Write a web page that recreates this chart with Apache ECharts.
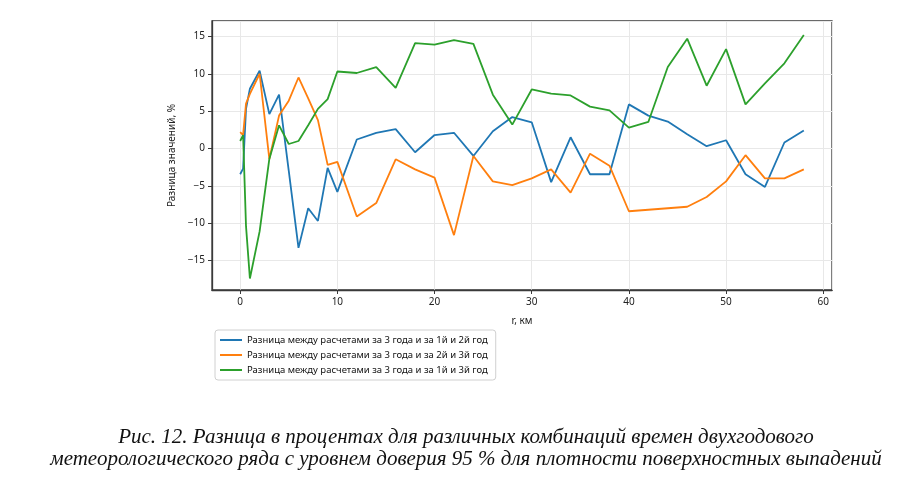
<!DOCTYPE html>
<html>
<head>
<meta charset="utf-8">
<script src="https://cdn.jsdelivr.net/npm/echarts@6/dist/echarts.min.js"></script>
<style>html,body{margin:0;padding:0;background:#fff}#c{width:917px;height:488px}</style>
</head>
<body>
<div id="c"></div>
<script>
const xValues = [0, 0.3, 0.6, 1, 2, 3, 4, 5, 6, 7, 8, 9, 10, 12, 14, 16, 18, 20, 22, 24, 26, 28, 30, 32, 34, 36, 38, 40, 42, 44, 46, 48, 50, 52, 54, 56, 58];
const blueValues = [-3.45, -2.7, 5.3, 8.0, 10.4, 4.6, 7.2, -3.0, -13.3, -8.0, -9.7, -2.6, -5.8, 1.2, 2.1, 2.6, -0.5, 1.8, 2.1, -1.0, 2.3, 4.2, 3.5, -4.5, 1.5, -3.45, -3.45, 5.9, 4.4, 3.6, 1.9, 0.3, 1.1, -3.45, -5.15, 0.8, 2.4];
const orangeValues = [2.2, 1.8, 6.0, 7.3, 10.0, -1.4, 4.4, 6.4, 9.5, 6.7, 3.8, -2.2, -1.8, -9.1, -7.3, -1.45, -2.8, -3.9, -11.6, -1.0, -4.4, -4.9, -4.0, -2.8, -5.9, -0.7, -2.3, -8.4, -8.2, -8.0, -7.8, -6.5, -4.4, -0.9, -4.0, -4.0, -2.8];
const greenValues = [1.0, 1.8, -10.4, -17.4, -11.1, -1.4, 3.1, 0.6, 1.0, 3.1, 5.3, 6.6, 10.3, 10.1, 10.9, 8.1, 14.1, 13.9, 14.5, 14.0, 7.2, 3.2, 7.9, 7.35, 7.1, 5.6, 5.1, 2.8, 3.55, 10.9, 14.7, 8.4, 13.3, 5.9, 8.7, 11.4, 15.2];
const seriesNames = [
  'Разница между расчетами за 3 года и за 1й и 2й год',
  'Разница между расчетами за 3 года и за 2й и 3й год',
  'Разница между расчетами за 3 года и за 1й и 3й год'
];
const xTitle = 'r, км';
const yTitle = 'Разница значений, %';
const captionLines = [
  'Рис. 12. Разница в процентах для различных комбинаций времен двухгодового',
  'метеорологического ряда с уровнем доверия 95 % для плотности поверхностных выпадений'
];
const colors = ['#1f77b4', '#ff7f0e', '#2ca02c'];

function pairs(vals) { return xValues.map((x, i) => [x, vals[i]]); }
const allVals = [blueValues, orangeValues, greenValues];

const chart = echarts.init(document.getElementById('c'));
const font = '"Noto Sans", "DejaVu Sans", sans-serif';
chart.setOption({
  animation: false,
  backgroundColor: '#fff',
  grid: { left: 212, top: 21, right: 85, bottom: 198, show: true, borderColor: '#3a3a3a', borderWidth: 1.3, backgroundColor: 'transparent' },
  xAxis: {
    type: 'value', min: -2.9, max: 60.9, splitNumber: 6,
    name: xTitle, nameLocation: 'middle', nameGap: 26,
    nameTextStyle: { fontFamily: font, fontSize: 10, color: '#222' },
    axisLine: { show: true, onZero: false, lineStyle: { color: '#3a3a3a', width: 1.3 } },
    axisTick: { show: true, length: 4, lineStyle: { color: '#3a3a3a' } },
    axisLabel: { fontFamily: font, fontSize: 10, color: '#222', margin: 7, showMinLabel: false, showMaxLabel: false },
    splitLine: { show: true, lineStyle: { color: '#e8e8e8', width: 1 } }
  },
  yAxis: {
    type: 'value', min: -18.94, max: 17.06, splitNumber: 7,
    name: yTitle, nameLocation: 'middle', nameGap: 28, nameRotate: 90,
    nameTextStyle: { fontFamily: font, fontSize: 10, color: '#222' },
    axisLine: { show: true, onZero: false, lineStyle: { color: '#3a3a3a', width: 1.3 } },
    axisTick: { show: true, length: 4, lineStyle: { color: '#3a3a3a' } },
    axisLabel: { fontFamily: font, fontSize: 10, color: '#222', margin: 7, showMinLabel: false, showMaxLabel: false,
      formatter: v => (v < 0 ? '\u2212' + Math.abs(v) : String(v)) },
    splitLine: { show: true, lineStyle: { color: '#e8e8e8', width: 1 } }
  },
  legend: {
    orient: 'vertical', left: 215, top: 330,
    icon: 'rect', itemWidth: 22, itemHeight: 2, itemGap: 3,
    padding: [4, 8, 4, 5],
    borderColor: '#d0d0d0', borderWidth: 1, borderRadius: 3,
    textStyle: { fontFamily: font, fontSize: 9.5, color: '#111', lineHeight: 12 },
    data: seriesNames
  },
  series: seriesNames.map((n, i) => ({
    name: n, type: 'line', data: pairs(allVals[i]), symbol: 'none',
    lineStyle: { color: colors[i], width: 1.8 }, itemStyle: { color: colors[i] }
  })),
  graphic: captionLines.map((t, i) => ({
    type: 'text', x: 466, y: 437 + i * 22,
    style: { text: t, font: 'italic 21px "Liberation Serif", "Times New Roman", serif', fill: '#111', align: 'center', verticalAlign: 'middle' }
  }))
});
</script>
</body>
</html>
